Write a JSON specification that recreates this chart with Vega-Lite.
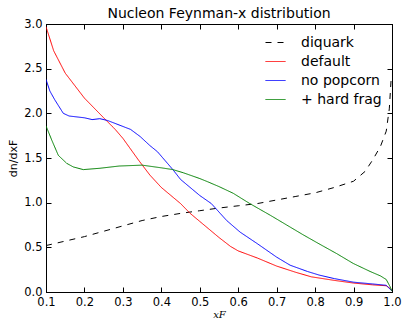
{
  "$schema": "https://vega.github.io/schema/vega-lite/v6.json",
  "width": 346,
  "height": 268,
  "autosize": {"type": "none"},
  "padding": {"left": 46, "top": 24, "right": 12, "bottom": 30},
  "background": "white",
  "title": {"text": "Nucleon Feynman-x distribution", "font": "DejaVu Sans", "fontSize": 14, "fontWeight": "normal", "color": "black", "offset": 0, "dy": 3},
  "config": {
    "view": {"stroke": "black", "strokeWidth": 1},
    "axis": {"domainColor": "black", "tickColor": "black", "labelColor": "black", "titleColor": "black", "labelFont": "DejaVu Sans", "labelFontSize": 11.5, "titleFont": "DejaVu Sans", "titleFontWeight": "normal", "grid": false, "tickSize": -5, "labelPadding": 9, "labelFlush": false}
  },
  "data": {"values": [
    {"series": "diquark", "x": 0.10, "y": 0.52},
    {"series": "diquark", "x": 0.15, "y": 0.57},
    {"series": "diquark", "x": 0.20, "y": 0.62},
    {"series": "diquark", "x": 0.25, "y": 0.68},
    {"series": "diquark", "x": 0.30, "y": 0.74},
    {"series": "diquark", "x": 0.35, "y": 0.80},
    {"series": "diquark", "x": 0.40, "y": 0.845},
    {"series": "diquark", "x": 0.45, "y": 0.88},
    {"series": "diquark", "x": 0.50, "y": 0.91},
    {"series": "diquark", "x": 0.55, "y": 0.94},
    {"series": "diquark", "x": 0.60, "y": 0.965},
    {"series": "diquark", "x": 0.65, "y": 0.99},
    {"series": "diquark", "x": 0.70, "y": 1.03},
    {"series": "diquark", "x": 0.75, "y": 1.07},
    {"series": "diquark", "x": 0.80, "y": 1.11},
    {"series": "diquark", "x": 0.85, "y": 1.17},
    {"series": "diquark", "x": 0.90, "y": 1.24},
    {"series": "diquark", "x": 0.93, "y": 1.35},
    {"series": "diquark", "x": 0.95, "y": 1.48},
    {"series": "diquark", "x": 0.97, "y": 1.63},
    {"series": "diquark", "x": 0.985, "y": 1.80},
    {"series": "diquark", "x": 0.993, "y": 2.05},
    {"series": "diquark", "x": 0.998, "y": 2.40},

    {"series": "default", "x": 0.10, "y": 2.97},
    {"series": "default", "x": 0.12, "y": 2.70},
    {"series": "default", "x": 0.15, "y": 2.45},
    {"series": "default", "x": 0.20, "y": 2.17},
    {"series": "default", "x": 0.25, "y": 1.95},
    {"series": "default", "x": 0.28, "y": 1.82},
    {"series": "default", "x": 0.30, "y": 1.72},
    {"series": "default", "x": 0.34, "y": 1.48},
    {"series": "default", "x": 0.37, "y": 1.31},
    {"series": "default", "x": 0.40, "y": 1.17},
    {"series": "default", "x": 0.45, "y": 0.99},
    {"series": "default", "x": 0.475, "y": 0.88},
    {"series": "default", "x": 0.50, "y": 0.79},
    {"series": "default", "x": 0.55, "y": 0.61},
    {"series": "default", "x": 0.58, "y": 0.51},
    {"series": "default", "x": 0.60, "y": 0.46},
    {"series": "default", "x": 0.65, "y": 0.38},
    {"series": "default", "x": 0.70, "y": 0.29},
    {"series": "default", "x": 0.75, "y": 0.22},
    {"series": "default", "x": 0.79, "y": 0.17},
    {"series": "default", "x": 0.85, "y": 0.13},
    {"series": "default", "x": 0.90, "y": 0.10},
    {"series": "default", "x": 0.95, "y": 0.08},
    {"series": "default", "x": 0.985, "y": 0.07},
    {"series": "default", "x": 0.995, "y": 0.04},
    {"series": "default", "x": 1.00, "y": 0.01},

    {"series": "no popcorn", "x": 0.10, "y": 2.38},
    {"series": "no popcorn", "x": 0.11, "y": 2.25},
    {"series": "no popcorn", "x": 0.123, "y": 2.15},
    {"series": "no popcorn", "x": 0.145, "y": 2.00},
    {"series": "no popcorn", "x": 0.16, "y": 1.97},
    {"series": "no popcorn", "x": 0.20, "y": 1.95},
    {"series": "no popcorn", "x": 0.22, "y": 1.93},
    {"series": "no popcorn", "x": 0.24, "y": 1.94},
    {"series": "no popcorn", "x": 0.26, "y": 1.92},
    {"series": "no popcorn", "x": 0.29, "y": 1.87},
    {"series": "no popcorn", "x": 0.32, "y": 1.82},
    {"series": "no popcorn", "x": 0.345, "y": 1.74},
    {"series": "no popcorn", "x": 0.37, "y": 1.64},
    {"series": "no popcorn", "x": 0.39, "y": 1.57},
    {"series": "no popcorn", "x": 0.43, "y": 1.37},
    {"series": "no popcorn", "x": 0.45, "y": 1.26},
    {"series": "no popcorn", "x": 0.50, "y": 1.08},
    {"series": "no popcorn", "x": 0.53, "y": 0.99},
    {"series": "no popcorn", "x": 0.57, "y": 0.80},
    {"series": "no popcorn", "x": 0.605, "y": 0.67},
    {"series": "no popcorn", "x": 0.65, "y": 0.54},
    {"series": "no popcorn", "x": 0.70, "y": 0.39},
    {"series": "no popcorn", "x": 0.735, "y": 0.30},
    {"series": "no popcorn", "x": 0.78, "y": 0.23},
    {"series": "no popcorn", "x": 0.81, "y": 0.19},
    {"series": "no popcorn", "x": 0.85, "y": 0.15},
    {"series": "no popcorn", "x": 0.90, "y": 0.11},
    {"series": "no popcorn", "x": 0.95, "y": 0.09},
    {"series": "no popcorn", "x": 0.985, "y": 0.075},
    {"series": "no popcorn", "x": 1.00, "y": 0.01},

    {"series": "+ hard frag", "x": 0.10, "y": 1.86},
    {"series": "+ hard frag", "x": 0.115, "y": 1.70},
    {"series": "+ hard frag", "x": 0.132, "y": 1.53},
    {"series": "+ hard frag", "x": 0.154, "y": 1.44},
    {"series": "+ hard frag", "x": 0.171, "y": 1.40},
    {"series": "+ hard frag", "x": 0.197, "y": 1.37},
    {"series": "+ hard frag", "x": 0.24, "y": 1.385},
    {"series": "+ hard frag", "x": 0.29, "y": 1.41},
    {"series": "+ hard frag", "x": 0.35, "y": 1.42},
    {"series": "+ hard frag", "x": 0.40, "y": 1.39},
    {"series": "+ hard frag", "x": 0.43, "y": 1.37},
    {"series": "+ hard frag", "x": 0.457, "y": 1.335},
    {"series": "+ hard frag", "x": 0.50, "y": 1.27},
    {"series": "+ hard frag", "x": 0.52, "y": 1.235},
    {"series": "+ hard frag", "x": 0.55, "y": 1.18},
    {"series": "+ hard frag", "x": 0.587, "y": 1.105},
    {"series": "+ hard frag", "x": 0.63, "y": 0.99},
    {"series": "+ hard frag", "x": 0.683, "y": 0.86},
    {"series": "+ hard frag", "x": 0.726, "y": 0.75},
    {"series": "+ hard frag", "x": 0.769, "y": 0.64},
    {"series": "+ hard frag", "x": 0.81, "y": 0.54},
    {"series": "+ hard frag", "x": 0.856, "y": 0.43},
    {"series": "+ hard frag", "x": 0.899, "y": 0.32},
    {"series": "+ hard frag", "x": 0.943, "y": 0.23},
    {"series": "+ hard frag", "x": 0.97, "y": 0.18},
    {"series": "+ hard frag", "x": 0.985, "y": 0.14},
    {"series": "+ hard frag", "x": 0.995, "y": 0.06},
    {"series": "+ hard frag", "x": 1.00, "y": 0.01}
  ]},
  "layer": [
    {
      "mark": {"type": "line", "strokeWidth": 1, "clip": true},
      "encoding": {
        "x": {"field": "x", "type": "quantitative", "scale": {"domain": [0.1, 1.0], "nice": false, "zero": false},
              "axis": {"orient": "bottom", "values": [0.1,0.2,0.3,0.4,0.5,0.6,0.7,0.8,0.9,1.0], "format": ".1f", "title": "xF", "titleFont": "DejaVu Serif", "titleFontStyle": "italic", "titleFontSize": 10, "titlePadding": 2}},
        "y": {"field": "y", "type": "quantitative", "scale": {"domain": [0, 3.0], "nice": false, "zero": false},
              "axis": {"orient": "left", "values": [0,0.5,1.0,1.5,2.0,2.5,3.0], "format": ".1f", "title": "dn/dxF", "titleFontSize": 11, "titlePadding": 5}},
        "color": {"field": "series", "type": "nominal",
                  "scale": {"domain": ["diquark", "default", "no popcorn", "+ hard frag"], "range": ["black", "#ff0000", "#0000ff", "#008000"]},
                  "legend": {"orient": "none", "legendX": 219, "legendY": 8, "title": null, "symbolType": "stroke", "symbolSize": 400, "symbolStrokeWidth": 1, "labelFont": "DejaVu Sans", "labelFontSize": 14, "labelColor": "black", "labelOffset": 15, "rowPadding": 1, "padding": 0}},
        "strokeDash": {"field": "series", "type": "nominal",
                  "scale": {"domain": ["diquark", "default", "no popcorn", "+ hard frag"], "range": [[6,6],[1,0],[1,0],[1,0]]},
                  "legend": {"orient": "none", "legendX": 219, "legendY": 8, "title": null, "symbolType": "stroke", "symbolSize": 400, "symbolStrokeWidth": 1, "labelFont": "DejaVu Sans", "labelFontSize": 14, "labelColor": "black", "labelOffset": 15, "rowPadding": 1, "padding": 0}}
      }
    },
    {
      "mark": {"type": "line", "opacity": 0, "clip": true},
      "encoding": {
        "x": {"field": "x", "type": "quantitative", "scale": {"domain": [0.1, 1.0], "nice": false, "zero": false}, "axis": {"orient": "top", "values": [0.1,0.2,0.3,0.4,0.5,0.6,0.7,0.8,0.9,1.0], "labels": false, "title": null}},
        "y": {"field": "y", "type": "quantitative", "scale": {"domain": [0, 3.0], "nice": false, "zero": false}, "axis": {"orient": "right", "values": [0,0.5,1.0,1.5,2.0,2.5,3.0], "labels": false, "title": null}}
      }
    }
  ],
  "resolve": {"axis": {"x": "independent", "y": "independent"}}
}
